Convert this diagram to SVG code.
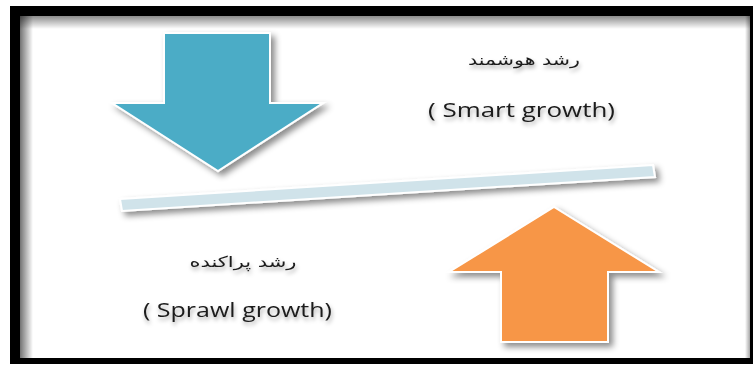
<svg xmlns="http://www.w3.org/2000/svg" width="753" height="365" viewBox="0 0 753 365">
  <defs>
    <filter id="shapeShadow" x="-20%" y="-20%" width="150%" height="150%">
      <feDropShadow dx="4" dy="4" stdDeviation="3" flood-color="#000" flood-opacity="0.45"/>
    </filter>
    <filter id="textShadow" x="-20%" y="-50%" width="140%" height="220%">
      <feDropShadow dx="1" dy="3" stdDeviation="2" flood-color="#000" flood-opacity="0.35"/>
    </filter>
    <linearGradient id="topShade" x1="0" y1="0" x2="0" y2="1">
      <stop offset="0" stop-color="#000" stop-opacity="0.45"/>
      <stop offset="1" stop-color="#000" stop-opacity="0"/>
    </linearGradient>
    <linearGradient id="leftShade" x1="0" y1="0" x2="1" y2="0">
      <stop offset="0" stop-color="#000" stop-opacity="0.55"/>
      <stop offset="1" stop-color="#000" stop-opacity="0"/>
    </linearGradient>
    <linearGradient id="rightShade" x1="1" y1="0" x2="0" y2="0">
      <stop offset="0" stop-color="#000" stop-opacity="0.35"/>
      <stop offset="1" stop-color="#000" stop-opacity="0"/>
    </linearGradient>
  </defs>
  <style>
    .shape { stroke: #ffffff; stroke-width: 2; stroke-linejoin: miter; filter: url(#shapeShadow); }
    .lat { font-family: "Open Sans", "Liberation Sans", sans-serif; font-size: 20px; fill: #1a1a1a; filter: url(#textShadow); }
    .fa { font-family: "DejaVu Sans", "Noto Sans", sans-serif; font-size: 15px; fill: #1a1a1a; filter: url(#textShadow); }
  </style>

  <!-- frame -->
  <g id="frame">
    <rect x="0" y="0" width="753" height="365" fill="#ffffff"/>
    <rect x="10" y="6" width="743" height="358" fill="#000000"/>
    <rect x="20" y="16" width="730" height="342" fill="#ffffff"/>
    <rect x="20" y="16" width="730" height="13" fill="url(#topShade)"/>
    <rect x="20" y="16" width="13" height="342" fill="url(#leftShade)"/>
    <rect x="745" y="16" width="5" height="342" fill="url(#rightShade)"/>
  </g>

  <!-- balance beam -->
  <g id="beam">
    <polygon class="shape" points="120,199 653,165 655,177 122,211" fill="#d0e3ea"/>
  </g>

  <!-- down arrow (smart growth) -->
  <g id="arrow-down">
    <polygon class="shape" points="164,33 270,33 270,103 323,103 218,171 112,103 164,103" fill="#4bacc6"/>
  </g>

  <!-- up arrow (sprawl growth) -->
  <g id="arrow-up">
    <polygon class="shape" points="554,207 659,272 608,272 608,342 501,342 501,272 449,272" fill="#f79646"/>
  </g>

  <g id="connectors"/>

  <!-- labels -->
  <g id="label-smart">
    <text class="fa" x="524" y="65" text-anchor="middle" direction="rtl" textLength="112" lengthAdjust="spacingAndGlyphs">رشد هوشمند</text>
    <text class="lat" x="428" y="117" textLength="187" lengthAdjust="spacingAndGlyphs">( Smart growth)</text>
  </g>
  <g id="label-sprawl">
    <text class="fa" x="243" y="267" text-anchor="middle" direction="rtl" textLength="107" lengthAdjust="spacingAndGlyphs">رشد پراکنده</text>
    <text class="lat" x="143" y="317" textLength="189" lengthAdjust="spacingAndGlyphs">( Sprawl growth)</text>
  </g>
</svg>
